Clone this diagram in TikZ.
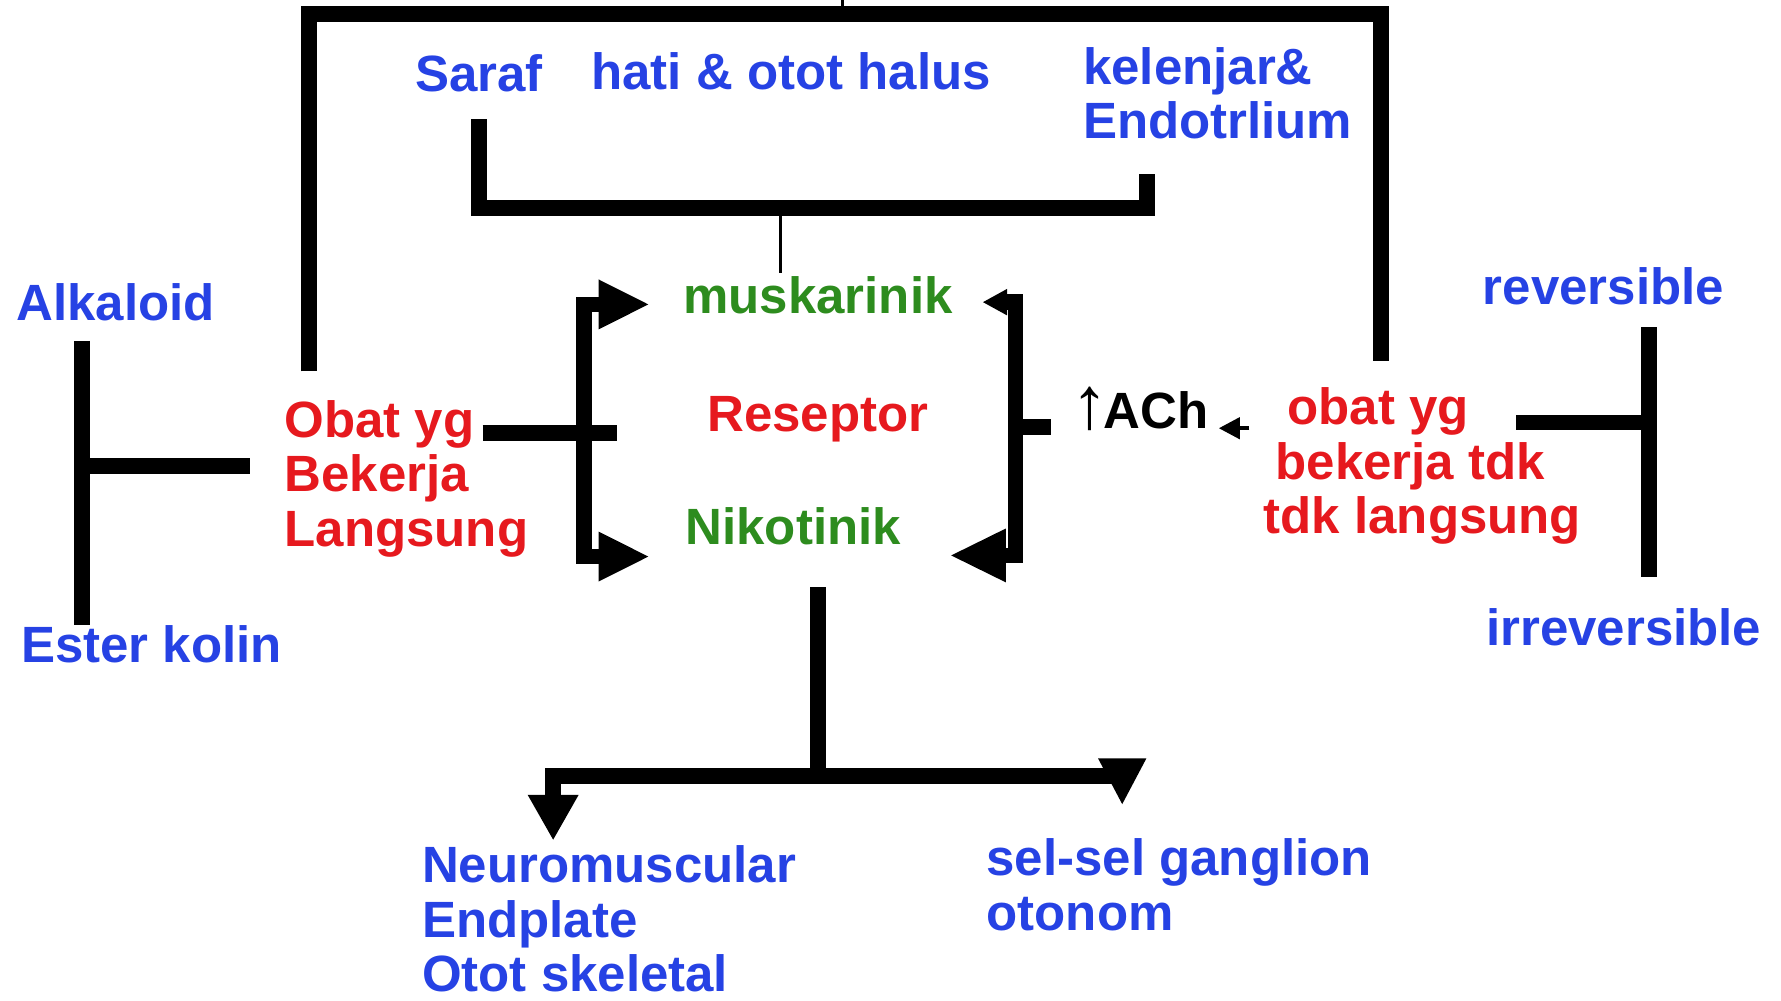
\documentclass[tikz,border=0pt]{standalone}
\usepackage{fontspec}
\setmainfont{Liberation Sans}
\usepackage{xcolor}
\usetikzlibrary{
  arrows.meta
}
\definecolor{biru}{RGB}{38,66,228}
\definecolor{merah}{RGB}{230,25,30}
\definecolor{hijau}{RGB}{45,140,30}

\begin{document}
\begin{tikzpicture}[%
        x=0.011358cm,y=-0.011358cm,
        teks/.style={
            inner sep=0pt,
            font=\bfseries\fontsize{14.5}{15.5}\selectfont
          },
        blok/.style={teks,align=left,anchor=north west},
        satu/.style={teks,anchor=base west},
        garis/.style={line width=4.5pt},
        tipis/.style={line width=0.9pt},
        panah/.style={-{Triangle[length=14.5pt,width=13pt]}},
        panahbesar/.style={-{Triangle[length=16pt,width=14pt]}},
        panahkecil/.style={-{Triangle[length=7pt,width=7pt]}},
        panahbawah/.style={-{Triangle[length=13pt,width=13.5pt]}}
      ]
      \useasboundingbox (0,0) rectangle (1568,881);

      % teks
      \node[blok,biru] (saraf) at (365,47) {Saraf};
      \node[blok,biru] (hati) at (520,46) {hati \& otot halus};
      \node[blok,biru] (kelenjar) at (953,41) {kelenjar\&\\Endotrlium};
      \node[satu,biru] (alkaloid) at (14,282) {Alkaloid};
      \node[satu,biru] (ester) at (18,583) {Ester kolin};
      \node[blok,merah] (langsung) at (250,352) {Obat yg\\Bekerja\\Langsung};
      \node[satu,hijau] (musk) at (601,276) {muskarinik};
      \node[satu,merah] (reseptor) at (622,380) {Reseptor};
      \node[satu,hijau] (niko) at (603,479) {Nikotinik};
      \node[satu] (ach) at (943,377) {{\mdseries\fontsize{21}{21}\selectfont↑}\kern-1.5pt ACh};
      \node[blok,merah] (tdklangsung) at (1112,341)
        {\hspace*{6.8pt}obat yg\\\hspace*{3.4pt}bekerja tdk\\tdk langsung};
      \node[satu,biru] (rev) at (1305,268) {reversible};
      \node[satu,biru] (irrev) at (1308,568) {irreversible};
      \node[blok,biru] (neuro) at (371,744) {Neuromuscular\\Endplate\\Otot skeletal};
      \node[blok,biru] (ganglion) at (868,738) {sel-sel ganglion\\otonom};

      % titik
      \coordinate (frameL) at (272,327);
      \coordinate (frameTop) at (742,12);
      \coordinate (frameR) at (1216,318);
      \coordinate (tick) at (742,0);
      \coordinate (sarafB) at (422,105);
      \coordinate (brkTengah) at (687,183);
      \coordinate (kelB) at (1010,153);
      \coordinate (muskAtas) at (687,240);
      \coordinate (kb) at (514,381);
      \coordinate (langsungK) at (425,381);
      \coordinate (kbStub) at (543,381);
      \coordinate (muskKiri) at (572,268);
      \coordinate (nikoKiri) at (572,490);
      \coordinate (kn) at (894,376);
      \coordinate (knStub) at (925,376);
      \coordinate (muskKanan) at (865,266);
      \coordinate (nikoKanan) at (836,489);
      \coordinate (tdkKiri) at (1100,377);
      \coordinate (achKanan) at (1073,377);
      \coordinate (tdkKanan) at (1335,372);
      \coordinate (tR) at (1452,372);
      \coordinate (revB) at (1452,288);
      \coordinate (irrevA) at (1452,508);
      \coordinate (alkB) at (72,300);
      \coordinate (esterA) at (72,550);
      \coordinate (tL) at (72,410);
      \coordinate (langsungKi) at (220,410);
      \coordinate (nikoB) at (720,517);
      \coordinate (tBawah) at (720,683);
      \coordinate (neuroA) at (487,740);
      \coordinate (selSiku) at (988,683);
      \coordinate (selPangkal) at (988,668);
      \coordinate (selA) at (988,708);

      % bingkai atas
      \draw[garis] (frameL) |- (frameTop) -| (frameR);
      \draw[tipis] (frameTop) -- (tick);
      \draw[garis] (sarafB) |- (brkTengah) -| (kelB);
      \draw[tipis] (brkTengah) -- (muskAtas);

      % kurung kiri dan kanan
      \draw[garis,panah] (kb) |- (muskKiri);
      \draw[garis,panah] (kb) |- (nikoKiri);
      \draw[garis] (langsungK) -- (kbStub);
      \draw[garis,panahkecil] (kn) |- (muskKanan);
      \draw[garis,panahbesar] (kn) |- (nikoKanan);
      \draw[garis] (kn) -- (knStub);
      \draw[line width=1.2pt,-{Triangle[length=6pt,width=6pt]}] (tdkKiri) -- (achKanan);

      % cabang
      \draw[garis] (tdkKanan) -- (tR);
      \draw[garis] (revB) -- (irrevA);
      \draw[garis] (alkB) -- (esterA);
      \draw[garis] (tL) -- (langsungKi);

      % bawah
      \draw[garis] (nikoB) -- (tBawah);
      \draw[garis,panahbawah] (tBawah) -| (neuroA);
      \draw[garis] (tBawah) -- (selSiku);
      \draw[tipis,panahbawah] (selPangkal) -- (selA);

    \end{tikzpicture}
\end{document}
